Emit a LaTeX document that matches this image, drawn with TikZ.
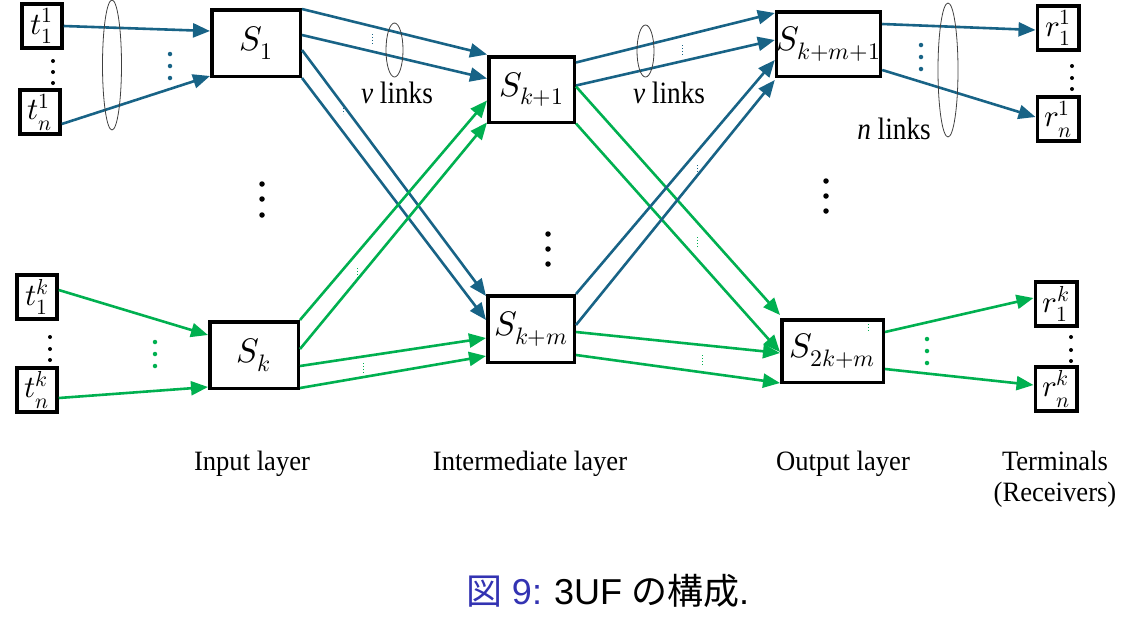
\documentclass[tikz,border=0pt]{standalone}
\usepackage{fontspec}
\usepackage{unicode-math}
\setmainfont{Liberation Serif}
\setmathfont{Latin Modern Math}
\newfontfamily\cjk{Noto Sans CJK JP}
\newfontfamily\capsans{Liberation Sans}
\usepackage{graphicx}
\usetikzlibrary{arrows.meta}
\definecolor{lb}{RGB}{24,99,134}
\definecolor{lg}{RGB}{0,176,80}
\definecolor{capblue}{RGB}{51,51,178}
\newcommand\lown{\lower3pt\hbox{$\scriptstyle n$}}
\newcommand\lowone{\lower2pt\hbox{$\scriptstyle 1$}}
\begin{document}
\begin{tikzpicture}[x=1pt,y=-1pt,
  box/.style={draw=black,line width=3.5pt,fill=white,inner sep=0pt,font=\fontsize{34}{36}\selectfont},
  term/.style={box,minimum width=40pt,minimum height=44pt,font=\fontsize{31}{32}\selectfont},
  ab/.style={draw=lb,line width=2.6pt,-{Triangle[length=17pt,width=14pt]}},
  ag/.style={ab,draw=lg},
  ell/.style={draw=black!75,line width=0.8pt},
  lay/.style={font=\fontsize{28}{32}\selectfont,anchor=base},
  lk/.style={font=\fontsize{31}{34}\selectfont,anchor=base},
  kdot/.style={fill=black,circle,inner sep=0pt,minimum size=4pt},
  bigdot/.style={fill=black,circle,inner sep=0pt,minimum size=5.5pt},
  bdot/.style={fill=lb,circle,inner sep=0pt,minimum size=4.5pt},
  gdot/.style={fill=lg,circle,inner sep=0pt,minimum size=4.5pt},
  tiny/.style={dotted,line width=1pt}
]
\useasboundingbox (0,0) rectangle (1125,622);
% terminals
\node[term] (t11) at (42,26) {$t_{\lowone}^1$};
\node[term] (tn1) at (40,112) {$t_{\lown}^1$};
\node[term] (t1k) at (37,297) {$t_{\lowone}^k$};
\node[term] (tnk) at (37,390) {$t_{\lown}^k$};
\node[term,minimum width=41.5pt] (r11) at (1058,28) {$r_{\lowone}^1$};
\node[term,minimum width=41.5pt] (rn1) at (1058,119) {$r_{\lown}^1$};
\node[term,minimum width=41.5pt] (r1k) at (1056,304) {$r_{\lowone}^k$};
\node[term,minimum width=41.5pt] (rnk) at (1056,389) {$r_{\lown}^k$};
% switches
\node[box,minimum width=88.5pt,minimum height=66.5pt] (S1) at (256,43) {$S_1$};
\node[box,minimum width=88.5pt,minimum height=66.5pt] (Sk) at (254,355) {$S_k$};
\node[box,minimum width=85.5pt,minimum height=65.5pt] (Skp1) at (531.5,89.5) {$S_{k+1}$};
\node[box,minimum width=86.5pt,minimum height=66.5pt] (Skm) at (531,329) {$S_{k+m}$};
\node[box,minimum width=99.5pt,minimum height=64.5pt] (Skm1) at (828.5,44) {$S_{k+m+1}$};
\node[box,minimum width=101.5pt,minimum height=62.5pt] (S2km) at (832.5,351) {$S_{2k+m}$};
% input arrows
\draw[ab] (t11.east) -- ([yshift=12]S1.west);
\draw[ab] ([yshift=-12]tn1.east) -- ([yshift=-33]S1.west);
\draw[ag] ([yshift=7]t1k.east) -- ([yshift=20]Sk.west);
\draw[ag] ([yshift=-8]tnk.east) -- ([yshift=-32]Sk.west);
% S1 out
\draw[ab] ([yshift=-1]S1.north east) -- ([yshift=35]Skp1.west);
\draw[ab] ([yshift=8]S1.east) -- ([yshift=11]Skp1.west);
\draw[ab] ([yshift=-7]S1.east) -- ([yshift=33]Skm.west);
\draw[ab] ([yshift=-35]S1.east) -- ([yshift=9]Skm.west);
% Sk out
\draw[ag] (Sk.north east) -- ([yshift=-11]Skp1.west);
\draw[ag] ([yshift=6]Sk.east) -- ([yshift=-33]Skp1.west);
\draw[ag] ([yshift=-11]Sk.east) -- ([yshift=-9]Skm.west);
\draw[ag] ([yshift=-33]Sk.east) -- ([yshift=-27]Skm.west);
% Sk+1 out
\draw[ab] ([yshift=27]Skp1.east) -- ([yshift=31]Skm1.west);
\draw[ab] ([yshift=4]Skp1.east) -- ([yshift=4]Skm1.west);
\draw[ag] ([yshift=3]Skp1.east) -- ([yshift=36]S2km.west);
\draw[ag] ([yshift=-34]Skp1.east) -- ([yshift=-1]S2km.west);
% Sk+m out
\draw[ab] ([yshift=35]Skm.east) -- ([yshift=-16]Skm1.west);
\draw[ab] ([yshift=4]Skm.east) -- ([yshift=-36]Skm1.west);
\draw[ag] ([yshift=-3]Skm.east) -- ([yshift=-2]S2km.west);
\draw[ag] ([yshift=-26]Skm.east) -- ([yshift=-32]S2km.west);
% output arrows
\draw[ab] ([yshift=20]Skm1.east) -- ([yshift=-2]r11.west);
\draw[ab] ([yshift=-26]Skm1.east) -- ([yshift=2]rn1.west);
\draw[ag] ([yshift=19]S2km.east) -- ([yshift=6]r1k.west);
\draw[ag] ([yshift=-18]S2km.east) -- ([yshift=4]rnk.west);
% ellipses
\draw[ell] (112,65) ellipse [x radius=9.5, y radius=65];
\draw[ell] (394.5,50) ellipse [x radius=8.5, y radius=27];
\draw[ell] (645.5,51) ellipse [x radius=8.5, y radius=26];
\draw[ell] (948,70) ellipse [x radius=10, y radius=67];
% link labels
\node[lk] (vl1) at (397,103) {\scalebox{0.88}[1]{$\mathit{v}$ links}};
\node[lk] (vl2) at (669,103) {\scalebox{0.88}[1]{$\mathit{v}$ links}};
\node[lk] (nl) at (894,139) {\scalebox{0.88}[1]{$\mathit{n}$ links}};
% small dots between terminals
\foreach \y [count=\i] in {61,72,83} \node[kdot] (da\i) at (53,\y) {};
\foreach \y [count=\i] in {337,349,360} \node[kdot] (db\i) at (50,\y) {};
\foreach \y [count=\i] in {66,78,89} \node[kdot] (dc\i) at (1072,\y) {};
\foreach \y [count=\i] in {337,350,361} \node[kdot] (dd\i) at (1071,\y) {};
% coloured dots
\foreach \y [count=\i] in {54,66,78} \node[bdot] (de\i) at (170,\y) {};
\foreach \y [count=\i] in {45,57,69} \node[bdot] (df\i) at (921,\y) {};
\foreach \y [count=\i] in {342,354,366} \node[gdot] (dg\i) at (155,\y) {};
\foreach \y [count=\i] in {339,351,363} \node[gdot] (dh\i) at (927,\y) {};
% big dots
\foreach \y [count=\i] in {184,199,215} \node[bigdot] (di\i) at (262,\y) {};
\foreach \y [count=\i] in {234,249,264} \node[bigdot] (dj\i) at (548,\y) {};
\foreach \y [count=\i] in {181,196,211} \node[bigdot] (dk\i) at (826,\y) {};
% tiny dotted marks
\draw[tiny,lb] (372,34) -- (372,44);
\draw[tiny,lb] (343,105) -- (343,114);
\draw[tiny,lg] (357,268) -- (357,278);
\draw[tiny,lg] (363,363) -- (363,373);
\draw[tiny,lb] (682,45) -- (682,56);
\draw[tiny,lb] (697,165) -- (697,175);
\draw[tiny,lg] (697,237) -- (697,247);
\draw[tiny,lg] (702,355) -- (702,365);
\draw[tiny,lg] (868,324) -- (868,332);
% layer labels
\node[lay] (l1) at (252,470) {\scalebox{0.95}[1]{Input layer}};
\node[lay] (l2) at (530,470) {\scalebox{0.95}[1]{Intermediate layer}};
\node[lay] (l3) at (843,470) {\scalebox{0.95}[1]{Output layer}};
\node[lay] (l4) at (1055,470) {\scalebox{0.95}[1]{Terminals}};
\node[lay] (l5) at (1055,501) {\scalebox{0.95}[1]{(Receivers)}};
% caption
\node (cap) at (608,591) {\fontsize{36}{40}\selectfont\textcolor{capblue}{{\cjk 図} {\capsans 9:}} {\capsans 3UF} {\cjk の構成}{\capsans .}};
\end{tikzpicture}
\end{document}
